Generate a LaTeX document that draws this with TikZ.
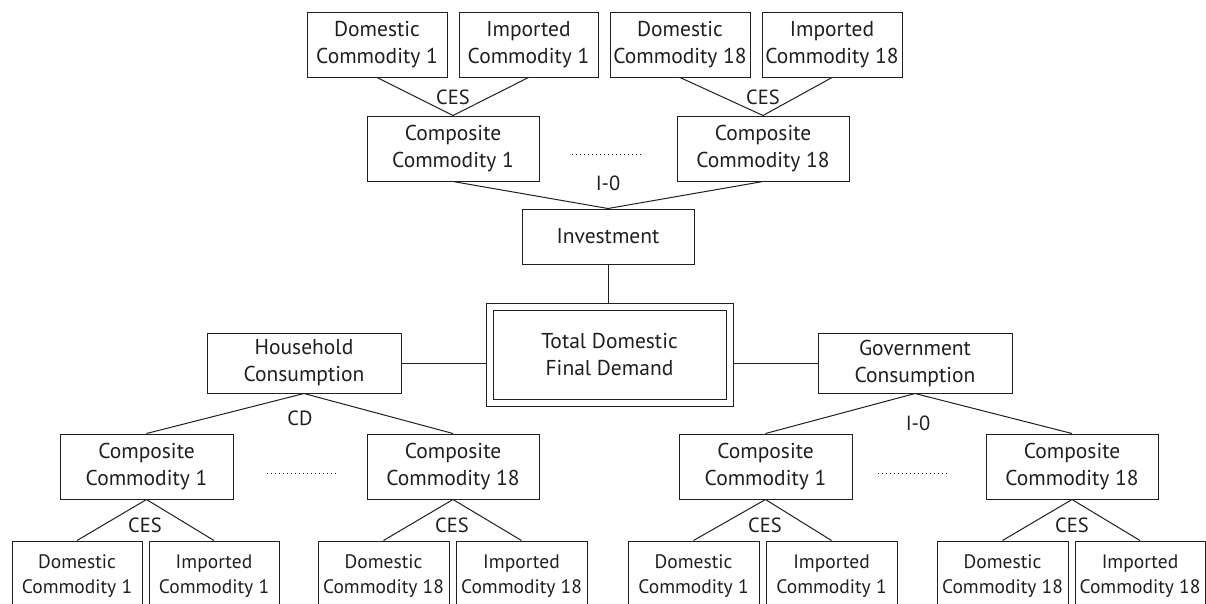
\documentclass[tikz,border=0pt]{standalone}
\usepackage{fontspec}
\setmainfont{PT Sans}
\usetikzlibrary{calc}
\definecolor{ink}{rgb}{0.12,0.12,0.12}
\begin{document}
\begin{tikzpicture}[x=1pt,y=-1pt,
  box/.style={draw=ink, line width=1pt, text=ink, align=center, inner sep=0pt,
    minimum height=65pt, font=\fontsize{21.5}{27}\selectfont},
  sbox/.style={box, minimum height=70pt, minimum width=131pt, font=\fontsize{19.5}{25}\selectfont},
  conn/.style={draw=ink, line width=1pt},
  lab/.style={text=ink, inner sep=0pt, font=\fontsize{20.5}{24}\selectfont},
  dotline/.style={draw=ink, line width=1pt, dash pattern=on 1.2pt off 2.8pt}]
\useasboundingbox (0,0) rectangle (1206,603);
\clip (0,0) rectangle (1206,603);
% top
\node[box, minimum width=140pt] (td1) at (377,44.5) {Domestic\\Commodity 1};
\node[box, minimum width=139pt] (ti1) at (528.5,44.5) {Imported\\Commodity 1};
\node[box, minimum width=140pt] (td18) at (680,44.5) {Domestic\\Commodity 18};
\node[box, minimum width=140pt] (ti18) at (832,44.5) {Imported\\Commodity 18};
\node[box, minimum width=172pt] (tc1) at (453,148.5) {Composite\\Commodity 1};
\node[box, minimum width=172pt] (tc18) at (763,148.5) {Composite\\Commodity 18};
\node[box, minimum width=172pt, minimum height=55pt] (inv) at (608,236.5) {Investment};
% total
\node[box, minimum width=247pt, minimum height=103pt] (tot) at (609.5,354.5) {Total Domestic\\Final Demand};
\draw[conn] ($(tot.south west)+(7.5,-7.5)$) rectangle ($(tot.north east)+(-7.5,7.5)$);
\node[box, minimum width=194pt, minimum height=60pt] (hh) at (304,363) {Household\\Consumption};
\node[box, minimum width=194pt, minimum height=60pt] (gov) at (915,363) {Government\\Consumption};
% second level
\node[box, minimum width=173pt] (bc1) at (146.5,466.5) {Composite\\Commodity 1};
\node[box, minimum width=172pt] (bc18) at (453,466.5) {Composite\\Commodity 18};
\node[box, minimum width=173pt] (gc1) at (765.5,466.5) {Composite\\Commodity 1};
\node[box, minimum width=172pt] (gc18) at (1072,466.5) {Composite\\Commodity 18};
% bottom
\node[sbox, minimum width=130pt] (bd1) at (77,576) {Domestic\\Commodity 1};
\node[sbox, minimum width=130pt] (bi1) at (214,576) {Imported\\Commodity 1};
\node[sbox] (bd18) at (383.5,576) {Domestic\\Commodity 18};
\node[sbox] (bi18) at (521.5,576) {Imported\\Commodity 18};
\node[sbox] (gd1) at (693.5,576) {Domestic\\Commodity 1};
\node[sbox] (gi1) at (831.5,576) {Imported\\Commodity 1};
\node[sbox] (gd18) at (1002.5,576) {Domestic\\Commodity 18};
\node[sbox, minimum width=130pt] (gi18) at (1140,576) {Imported\\Commodity 18};
% connectors
\draw[conn] (td1.south) -- (tc1.north) -- (ti1.south);
\draw[conn] (td18.south) -- (tc18.north) -- (ti18.south);
\draw[conn] (tc1.south) -- (inv.north) -- (tc18.south);
\draw[conn] (inv.south) -- (inv.south |- tot.north);
\draw[conn] (hh.east) -- (hh.east -| tot.west);
\draw[conn] (gov.west) -- (gov.west -| tot.east);
\draw[conn] (bc1.north) -- (hh.south) -- (bc18.north);
\draw[conn] (gc1.north) -- (gov.south) -- (gc18.north);
\draw[conn] (bd1.north) -- (bc1.south) -- (bi1.north);
\draw[conn] (bd18.north) -- (bc18.south) -- (bi18.north);
\draw[conn] (gd1.north) -- (gc1.south) -- (gi1.north);
\draw[conn] (gd18.north) -- (gc18.south) -- (gi18.north);
% dotted
\coordinate (d1a) at (572,154); \coordinate (d1b) at (642,154);
\coordinate (d2a) at (267,473); \coordinate (d2b) at (337,473);
\coordinate (d3a) at (878,473); \coordinate (d3b) at (948,473);
\draw[dotline] (d1a) -- (d1b);
\draw[dotline] (d2a) -- (d2b);
\draw[dotline] (d3a) -- (d3b);
% labels
\node[lab] (l1) at (453,97) {CES};
\node[lab] (l2) at (763,97) {CES};
\node[lab] (l3) at (608,183) {I-0};
\node[lab] (l4) at (300,418) {CD};
\node[lab] (l5) at (918,423) {I-0};
\node[lab] (l6) at (145,525) {CES};
\node[lab] (l7) at (452,525) {CES};
\node[lab] (l8) at (765,525) {CES};
\node[lab] (l9) at (1072,525) {CES};
\end{tikzpicture}
\end{document}
